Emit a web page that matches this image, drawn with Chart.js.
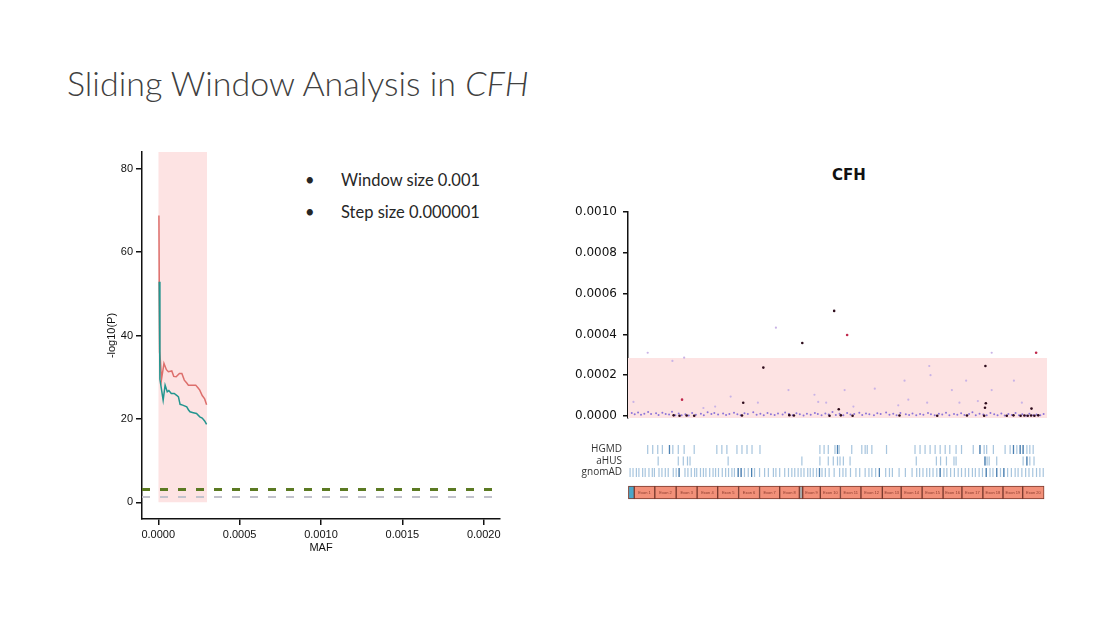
<!DOCTYPE html>
<html>
<head>
<meta charset="utf-8">
<script src="https://cdn.jsdelivr.net/npm/chart.js@4.4.1/dist/chart.umd.min.js"></script>
<style>
    body { margin: 0; width: 1115px; height: 627px; background: #fff; position: relative; overflow: hidden; }
    .abs { position: absolute; }
    #title { left: 67px; top: 62px; margin: 0; font: 300 34px Lato, sans-serif; color: #404040; white-space: nowrap; }
    .bullet { font: 16.5px Lato, sans-serif; color: #262626; white-space: nowrap; }
    #cfh { left: 809px; top: 166px; width: 80px; text-align: center; font: bold 15px "DejaVu Sans", sans-serif; color: #111; }
</style>
</head>
<body>
<h1 id="title" class="abs">Sliding Window Analysis in <i>CFH</i></h1>
<div class="abs bullet" style="left:305px;top:170px">•</div>
<div class="abs bullet" style="left:341px;top:170px">Window size 0.001</div>
<div class="abs bullet" style="left:305px;top:202px">•</div>
<div class="abs bullet" style="left:341px;top:202px">Step size 0.000001</div>
<div id="cfh" class="abs">CFH</div>

<canvas id="slideChart" class="abs" width="420" height="420" style="left:90px;top:140px"></canvas>
<canvas id="mafChart" class="abs" width="490" height="225" style="left:565px;top:200px"></canvas>
<canvas id="trackChart" class="abs" width="490" height="46" style="left:565px;top:438px"></canvas>
<canvas id="exonChart" class="abs" width="490" height="21" style="left:565px;top:482px"></canvas>

<script>
// ── Left: sliding window -log10(P) vs MAF ────────────────────────────────────

const mafTicks = [0, 0.0005, 0.001, 0.0015, 0.002];
const logpTicks = [0, 20, 40, 60, 80];
const windowRange = [0, 0.0003];
const sigLine = 3.1;      // green dashed
const nominalLine = 1.3;  // grey dashed

const redMaf = [0.000004, 0.000008, 0.000013, 0.000020, 0.000035, 0.000050, 0.000062, 0.000083, 0.000095, 0.000110,
    0.000130, 0.000145, 0.000160, 0.000175, 0.000185, 0.000230, 0.000245, 0.000255, 0.000270, 0.000285, 0.000297];
const redP = [68.8, 36.0, 34.0, 29.5, 33.3, 31.8, 31.3, 31.5, 30.2, 30.1,
    30.9, 30.9, 29.3, 28.6, 28.1, 28.1, 27.4, 26.9, 25.6, 24.8, 23.4];

const tealMaf = [0.000006, 0.000010, 0.000020, 0.000030, 0.000042, 0.000055, 0.000065, 0.000080, 0.000098, 0.000115, 0.000124,
    0.000134, 0.000150, 0.000175, 0.000185, 0.000195, 0.000215, 0.000235, 0.000255, 0.000270, 0.000285, 0.000297];
const tealP = [52.9, 29.5, 27.0, 24.5, 28.1, 26.5, 26.8, 26.1, 26.1, 25.6, 25.3,
    23.5, 23.3, 22.9, 22.2, 21.7, 21.5, 21.3, 20.5, 20.2, 19.5, 18.7];

// ── Right: per-variant MAF along CFH ─────────────────────────────────────────

const mafYTicks = [0, 0.0002, 0.0004, 0.0006, 0.0008, 0.001];
const mafCutoff = 0.000284;

// position along gene (0-100) and MAF
const bandPos = [0.9, 1.6, 2.4, 3.1, 3.9, 4.8, 5.5, 6.7, 7.3, 8.2, 9.0, 9.8, 10.5, 11.3, 12.1, 12.8, 13.7, 14.5, 15.3, 16.2,
    17.4, 18.1, 19.0, 19.9, 20.6, 21.5, 22.7, 23.4, 24.2, 25.3, 26.1, 26.9, 27.8, 28.6, 29.9, 30.7, 31.6, 32.4, 33.3, 34.1,
    35.0, 35.8, 36.9, 37.5, 38.4, 39.3, 40.2, 41.0, 41.9, 42.7, 43.6, 44.6, 45.3, 46.2, 47.1, 47.9, 48.8, 49.6, 50.5, 51.4,
    52.3, 53.1, 54.0, 55.2, 55.9, 56.8, 57.6, 58.7, 59.5, 60.3, 61.6, 62.4, 63.3, 64.1, 65.0, 66.3, 67.1, 67.9, 68.8, 69.7,
    70.5, 71.6, 72.3, 73.2, 74.2, 75.0, 75.9, 76.7, 77.8, 78.6, 79.5, 80.3, 81.4, 82.2, 83.0, 83.9, 84.8, 85.6, 86.5, 87.4,
    88.2, 89.1, 89.9, 90.8, 91.6, 92.5, 93.3, 94.1, 95.0, 95.8, 96.7, 97.5, 98.4, 99.2];
const bandMaf = [14, 8, 17, 6, 11, 19, 9, 13, 5, 16, 10, 7, 21, 4, 12, 3, 8, 2, 15, 6,
    11, 3, 18, 9, 14, 7, 12, 5, 10, 16, 8, 4, 13, 9, 18, 6, 11, 3, 14, 8,
    5, 12, 7, 17, 10, 4, 13, 8, 2, 11, 6, 15, 9, 3, 12, 7, 19, 5, 11, 3,
    14, 7, 10, 16, 5, 12, 8, 4, 13, 9, 17, 6, 11, 4, 14, 8, 5, 12, 3, 10,
    6, 15, 8, 4, 11, 7, 16, 3, 10, 6, 13, 5, 9, 18, 4, 11, 7, 3, 14, 8,
    4, 12, 2, 9, 5, 14, 3, 8, 2, 11, 4, 7, 3, 10].map(v => v * 1e-6);

const lightPos = [35.3, 4.7, 10.6, 13.4, 86.8, 71.9, 72.2, 66.0, 80.7, 92.1, 38.3, 51.7, 58.9, 77.3, 86.8,
    24.5, 44.5, 1.3, 31.0, 45.4, 47.3, 66.9, 71.4, 79.1, 83.5, 94.0, 64.5, 53.8, 18.0, 20.8];
const lightMaf = [0.000433, 0.00031, 0.00027, 0.000286, 0.00031, 0.000245, 0.0002, 0.000173, 0.000173, 0.000173, 0.000127, 0.000127, 0.000134, 0.000127, 0.000127,
    0.000095, 0.000104, 0.000069, 0.000065, 0.000069, 0.000065, 0.00008, 0.000065, 0.000065, 0.000073, 0.000065, 0.000052, 0.000046, 0.000039, 0.000046];

const darkPos = [49.2, 41.6, 32.3, 85.3, 27.5, 85.4, 85.2, 96.3, 50.3,
    10.9, 12.3, 14.0, 15.8, 27.2, 38.5, 39.6, 48.1, 50.8, 53.6, 64.8, 73.8, 80.9, 85.0, 90.4, 92.0, 93.7, 94.6, 95.4, 96.2, 97.0, 97.9];
const darkMaf = [0.000515, 0.000358, 0.000237, 0.000245, 0.000065, 0.000062, 0.00004, 0.000036, 0.000033,
    3e-6, 1e-6, 2e-6, 1e-6, 2e-6, 4e-6, 2e-6, 1e-6, 3e-6, 1e-6, 2e-6, 1e-6, 2e-6, 1e-6, 1e-6, 3e-6, 1e-6, 2e-6, 1e-6, 2e-6, 1e-6, 3e-6];

const redPos = [52.3, 97.4, 12.9];
const redMafPts = [0.000397, 0.00031, 0.00008];

// ── Variant tracks and exon map ──────────────────────────────────────────────

const trackNames = ['HGMD', 'aHUS', 'gnomAD'];
const hgmdPos = [4.7, 5.9, 7.1, 8.2, 9.9, 10.7, 12.0, 13.4, 15.8, 21.2, 22.4, 23.6, 26.0, 27.2, 28.4, 29.6, 31.5,
    45.8, 46.8, 47.8, 49.4, 50.0, 50.4, 53.4, 55.8, 56.6, 57.1, 58.2, 61.7, 68.5, 69.7, 70.9, 72.1, 73.3, 74.5,
    75.7, 76.8, 78.3, 79.6, 82.4, 84.0, 85.0, 85.6, 87.2, 90.0, 91.2, 92.0, 92.8, 93.6, 94.3, 95.2, 95.9, 96.7];
const ahusPos = [7.2, 12.0, 13.2, 14.2, 14.8, 23.9, 41.5, 45.8, 47.8, 49.0, 50.0, 50.6, 51.4, 53.0, 68.8, 73.6,
    74.6, 76.0, 77.8, 78.3, 85.2, 85.7, 86.2, 88.0, 94.3, 95.2, 95.9, 96.9];
const gnomadPos = [0.5, 1.2, 2.0, 2.6, 3.5, 4.1, 5.0, 5.8, 6.3, 7.4, 8.1, 8.9, 9.6, 10.8, 11.5, 12.2, 13.6, 14.3, 15.1, 15.9,
    16.4, 17.3, 18.0, 18.6, 19.5, 20.3, 20.9, 21.6, 22.5, 23.3, 24.0, 24.8, 25.4, 26.3, 27.0, 27.8, 28.7, 29.5, 30.2, 31.4,
    32.6, 33.5, 34.7, 35.3, 36.2, 37.4, 38.3, 39.1, 39.8, 40.6, 41.3, 42.0, 42.9, 43.5, 44.2, 45.0, 45.7, 46.3, 47.1, 48.0,
    49.2, 50.5, 51.3, 52.0, 53.1, 54.4, 55.3, 56.6, 57.5, 58.2, 59.1, 60.0, 61.5, 62.4, 63.1, 64.7, 66.2, 67.8, 68.9, 69.6,
    70.4, 71.3, 72.0, 72.8, 73.7, 74.5, 75.4, 76.1, 77.0, 77.9, 78.8, 79.6, 80.5, 81.3, 82.2, 82.9, 83.8, 84.6, 85.5, 86.4,
    87.1, 88.0, 88.9, 89.7, 90.6, 91.5, 92.4, 93.1, 94.0, 94.9, 95.7, 96.6, 97.5, 98.3, 99.1];
// the darker marks in each track
const hgmdDark = [9.9, 50.0, 84.0, 92.0, 93.6, 94.3];
const ahusDark = [85.2, 95.2];
const gnomadDark = [12.2, 26.3, 27.0, 29.5, 45.7, 60.0, 74.5, 85.5, 88.0, 89.7];

const exonStart = [1.5, 6.4, 11.5, 16.5, 21.4, 26.4, 31.4, 36.2, 41.7, 45.9, 50.7, 55.6, 60.7, 65.2, 70.2, 75.2, 79.7, 84.7, 89.5, 94.2];
const exonEnd = [6.4, 11.5, 16.5, 21.4, 26.4, 31.4, 36.2, 40.9, 45.9, 50.7, 55.6, 60.7, 65.2, 70.2, 75.2, 79.7, 84.7, 89.5, 94.2, 99.3];
const utrRange = [0.1, 1.5];
const gapRange = [40.9, 41.7];

const AXIS_FONT = { family: '"Liberation Sans", Arial, sans-serif', size: 11 };

function xy(xs, ys) {
    return xs.map((x, i) => ({ x, y: ys[i] }));
}

function fixedTicks(values) {
    return scale => { scale.ticks = values.map(value => ({ value })); };
}

// keep label overflow from shrinking the plot area
function fixedWidth(width) {
    return scale => {
        scale.width = width;
        scale.paddingTop = 0;
        scale.paddingBottom = 0;
    };
}

// ── Left chart ───────────────────────────────────────────────────────────────

new Chart(document.getElementById('slideChart'), {
    type: 'line',
    data: {
        datasets: [
            {
                data: xy(windowRange, [84, 84]),
                fill: 'origin',
                backgroundColor: '#fde3e3',
                borderWidth: 0,
                pointRadius: 0,
                order: 10,
            },
            {
                data: xy([-0.0001, 0.0021], [sigLine, sigLine]),
                borderColor: '#5b7a22',
                borderWidth: 3,
                borderDash: [8, 10],
                pointRadius: 0,
                order: 5,
            },
            {
                data: xy([-0.0001, 0.0021], [nominalLine, nominalLine]),
                borderColor: '#c2c2cc',
                borderWidth: 2,
                borderDash: [8, 10],
                pointRadius: 0,
                order: 5,
            },
            {
                data: xy(redMaf, redP),
                borderColor: '#dd6f6c',
                borderWidth: 1.5,
                pointRadius: 0,
                order: 1,
            },
            {
                data: xy(tealMaf, tealP),
                borderColor: '#23958f',
                borderWidth: 1.5,
                pointRadius: 0,
                order: 0,
            },
        ],
    },
    options: {
        responsive: false,
        animation: false,
        layout: { padding: { top: 12, right: 10, bottom: 0, left: 0 } },
        plugins: { legend: { display: false }, tooltip: { enabled: false } },
        scales: {
            x: {
                type: 'linear',
                min: -0.0001,
                max: 0.0021,
                afterBuildTicks: fixedTicks(mafTicks),
                afterFit: s => { s.height = 41; },
                ticks: { color: '#111', font: AXIS_FONT, padding: 3, maxRotation: 0, callback: v => v.toFixed(4) },
                grid: { drawOnChartArea: false, tickLength: 6, color: '#111', lineWidth: 1.5 },
                border: { color: '#111', width: 1.5 },
                title: { display: true, text: 'MAF', color: '#111', font: AXIS_FONT, padding: { bottom: 5 } },
            },
            y: {
                min: -4,
                max: 84,
                afterBuildTicks: fixedTicks(logpTicks),
                afterFit: fixedWidth(52),
                ticks: { color: '#111', font: AXIS_FONT, padding: 3 },
                grid: { drawOnChartArea: false, tickLength: 6, color: '#111', lineWidth: 1.5 },
                border: { color: '#111', width: 1.5 },
                title: { display: true, text: '-log10(P)', color: '#111', font: AXIS_FONT, padding: { top: 15 } },
            },
        },
    },
});

// ── Right chart: variant MAF ─────────────────────────────────────────────────

const DOT = { type: 'scatter', borderWidth: 0, order: 1 };

new Chart(document.getElementById('mafChart'), {
    type: 'scatter',
    data: {
        datasets: [
            {
                type: 'line',
                data: xy([0, 100], [mafCutoff, mafCutoff]),
                fill: { value: -0.00001 },
                backgroundColor: '#fde3e3',
                borderWidth: 0,
                pointRadius: 0,
                order: 10,
            },
            { ...DOT, data: xy(bandPos, bandMaf), backgroundColor: '#8c74d8', pointRadius: 1 },
            { ...DOT, data: xy(lightPos, lightMaf), backgroundColor: '#c9b3e6', pointRadius: 1.1 },
            { ...DOT, data: xy(darkPos, darkMaf), backgroundColor: '#2e0c1c', pointRadius: 1.3, order: 0 },
            { ...DOT, data: xy(redPos, redMafPts), backgroundColor: '#c0284c', pointRadius: 1.3, order: 0 },
        ],
    },
    options: {
        responsive: false,
        animation: false,
        layout: { padding: { top: 12, right: 8, bottom: 7, left: 0 } },
        plugins: { legend: { display: false }, tooltip: { enabled: false } },
        scales: {
            x: { type: 'linear', min: 0, max: 100, display: false },
            y: {
                min: -0.00001,
                max: 0.001,
                afterBuildTicks: fixedTicks(mafYTicks),
                afterFit: fixedWidth(63),
                ticks: {
                    color: '#111',
                    font: { family: '"DejaVu Sans", sans-serif', size: 12 },
                    padding: 6,
                    callback: v => v.toFixed(4),
                },
                grid: { drawOnChartArea: false, tickLength: 5, color: '#111', lineWidth: 1.5 },
                border: { color: '#111', width: 1.5 },
            },
        },
    },
});

// ── Variant tracks ───────────────────────────────────────────────────────────

const TICK = {
    pointStyle: 'line',
    rotation: 90,
    pointRadius: 4.5,
    borderWidth: 1.2,
    borderColor: 'rgba(80, 140, 190, 0.5)',
};
const DARK_TICK = { ...TICK, borderColor: 'rgba(40, 95, 150, 0.85)' };

new Chart(document.getElementById('trackChart'), {
    type: 'scatter',
    data: {
        datasets: [
            { ...TICK, data: hgmdPos.map(x => ({ x, y: 3 })) },
            { ...TICK, data: ahusPos.map(x => ({ x, y: 2 })) },
            { ...TICK, data: gnomadPos.map(x => ({ x, y: 1 })) },
            { ...DARK_TICK, data: hgmdDark.map(x => ({ x, y: 3 })) },
            { ...DARK_TICK, data: ahusDark.map(x => ({ x, y: 2 })) },
            { ...DARK_TICK, data: gnomadDark.map(x => ({ x, y: 1 })) },
        ],
    },
    options: {
        responsive: false,
        animation: false,
        layout: { padding: { top: 2, right: 8, bottom: 2, left: 0 } },
        plugins: { legend: { display: false }, tooltip: { enabled: false } },
        scales: {
            x: { type: 'linear', min: 0, max: 100, display: false },
            y: {
                min: 0.5,
                max: 3.5,
                afterBuildTicks: fixedTicks([1, 2, 3]),
                afterFit: fixedWidth(63),
                ticks: {
                    color: '#333',
                    font: { family: '"Open Sans", sans-serif', size: 10 },
                    padding: 6,
                    callback: v => trackNames[3 - v],
                },
                grid: { display: false, drawTicks: false },
                border: { display: false },
            },
        },
    },
});

// ── Exon map ─────────────────────────────────────────────────────────────────

const segments = [
    { range: utrRange, color: '#4aa7c9', name: '' },
    ...exonStart.slice(0, 8).map((s, i) => ({ range: [s, exonEnd[i]], color: '#f29079', name: `Exon ${i + 1}` })),
    { range: gapRange, color: '#a8a8a8', name: '' },
    ...exonStart.slice(8).map((s, i) => ({ range: [s, exonEnd[i + 8]], color: '#f29079', name: `Exon ${i + 9}` })),
];

const exonLabels = {
    id: 'exonLabels',
    afterDatasetsDraw(chart) {
        const { ctx } = chart;
        ctx.save();
        ctx.font = '4px "Liberation Sans", sans-serif';
        ctx.fillStyle = '#8a3a2c';
        ctx.textAlign = 'center';
        ctx.textBaseline = 'middle';
        chart.getDatasetMeta(0).data.forEach((bar, i) => {
            if (segments[i].name) ctx.fillText(segments[i].name, (bar.x + bar.base) / 2, bar.y);
        });
        ctx.restore();
    },
};

new Chart(document.getElementById('exonChart'), {
    type: 'bar',
    data: {
        labels: ['CFH'],
        datasets: [{
            data: segments.map(seg => ({ x: seg.range, y: 'CFH' })),
            backgroundColor: segments.map(seg => seg.color),
            borderColor: '#7a3a2e',
            borderWidth: 1,
            borderSkipped: false,
            barThickness: 13,
        }],
    },
    options: {
        indexAxis: 'y',
        responsive: false,
        animation: false,
        layout: { padding: { top: 2, right: 8, bottom: 2, left: 63 } },
        plugins: { legend: { display: false }, tooltip: { enabled: false } },
        scales: {
            x: { type: 'linear', min: 0, max: 100, display: false },
            y: { display: false },
        },
    },
    plugins: [exonLabels],
});
</script>
</body>
</html>
